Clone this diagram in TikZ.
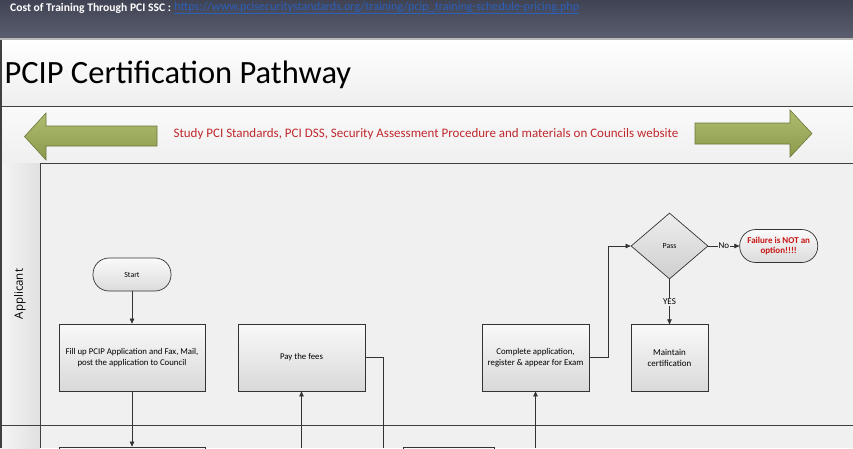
\documentclass[tikz,border=0pt]{standalone}
\usepackage{fontspec}
\setmainfont{Carlito}
\newfontfamily\laneFont{Open Sans}
\usetikzlibrary{positioning,shapes.geometric,arrows.meta}

\definecolor{bandTop}{HTML}{3F4354}
\definecolor{bandBottom}{HTML}{5A5E6F}
\definecolor{bgLight}{HTML}{F0F0F0}
\definecolor{arrowTop}{HTML}{AEBD70}
\definecolor{arrowBottom}{HTML}{8A994A}
\definecolor{arrowEdge}{HTML}{6C793A}
\definecolor{studyRed}{HTML}{C0282D}
\definecolor{failRed}{HTML}{C81414}
\definecolor{linkBlue}{HTML}{2C5FB8}

\begin{document}
\begin{tikzpicture}[x=1pt, y=1pt,
		conn/.style={draw=black!80, line width=0.6pt},
		arr/.style={conn, -{Triangle[length=5pt, width=4.5pt]}},
		stepbox/.style={draw=black!80, line width=0.7pt, top color=gray!5, bottom color=gray!30,
			align=center, minimum width=146pt, minimum height=67pt, inner sep=2pt,
			font=\fontsize{8.8}{10.8}\selectfont},
		terminal/.style={draw=black!80, line width=0.7pt, top color=gray!4, bottom color=gray!28,
			rounded corners=16pt, minimum width=78pt, minimum height=33pt, align=center,
			font=\fontsize{7.8}{9}\selectfont},
		decision/.style={diamond, draw=black!80, line width=0.7pt, top color=gray!14, bottom color=gray!38,
			minimum width=77pt, minimum height=66pt, inner sep=0pt, font=\fontsize{7.8}{9}\selectfont},
		lbl/.style={fill=bgLight, inner sep=1pt, font=\fontsize{9}{10}\selectfont},
		bigArrow/.style={draw=arrowEdge, line width=0.6pt, top color=arrowTop, bottom color=arrowBottom}
	]
	
	% --- Page frame (853 x 448) ---
	\path[use as bounding box, clip] (0,0) rectangle (853,-448);
	
	% Dark header band with the training link
	\shade[top color=bandTop, bottom color=bandBottom] (0,0) rectangle (853,-38);
	\fill[gray!55] (0,-38) rectangle (853,-40);
	\node[anchor=west, text=white, font=\bfseries\fontsize{11.6}{13}\selectfont, inner sep=1pt] (CostLbl) at (9,-8)
		{Cost of Training Through PCI SSC :};
	\node[right=1pt of CostLbl, text=linkBlue, font=\fontsize{12.1}{13}\selectfont, inner sep=1pt] (CostLink)
		{\underline{https://www.pcisecuritystandards.org/training/pcip\_training-schedule-pricing.php}};
	
	% Light body, title band and study band
	\fill[bgLight] (0,-40) rectangle (853,-448);
	\shade[top color=white, bottom color=gray!13] (0,-40) rectangle (853,-106);
	\shade[top color=gray!4, bottom color=gray!12] (0,-106) rectangle (853,-163);
	\draw[black!75, line width=0.8pt] (0,-106) -- (853,-106);
	\draw[black!75, line width=0.8pt] (0,-163) -- (853,-163);
	\node[anchor=west, font=\fontsize{32.5}{36}\selectfont] (Title) at (1,-75) {PCIP Certification Pathway};
	
	% Study band: two big arrows with the text in between
	\path[bigArrow] (24.5,-136.5) -- (46,-113) -- (46,-126) -- (157,-126) -- (157,-146)
		-- (46,-146) -- (46,-160) -- cycle;
	\path[bigArrow] (812,-133.5) -- (790,-110) -- (790,-123) -- (695,-123) -- (695,-144)
		-- (790,-144) -- (790,-157) -- cycle;
	\node[text=studyRed, font=\fontsize{13}{15}\selectfont] (Study) at (426,-134.5)
		{Study PCI Standards, PCI DSS, Security Assessment Procedure and materials on Councils website};
	
	% --- Swim lane "Applicant" ---
	\shade[left color=gray!8, right color=gray!24] (0,-163) rectangle (40,-448);
	\draw[black!75, line width=0.8pt] (40,-163) -- (40,-448);
	\draw[black!75, line width=0.8pt] (0,-425) -- (853,-425);
	\fill[black!75] (0,-40) rectangle (2,-448);
	\node[rotate=90, font=\laneFont\fontsize{11.5}{13}\selectfont] (Lane) at (20,-294) {Applicant};
	
	% Flow steps
	\node[terminal] (Start) at (132,-274.5) {Start};
	\node[stepbox] (FillApp) at (132,-357.5)
		{Fill up PCIP Application and Fax, Mail,\\ post the application to Council};
	\node[stepbox, minimum width=127pt] (PayFees) at (301.5,-357.5) {Pay the fees};
	\node[stepbox, minimum width=107pt] (Exam) at (535.5,-357.5)
		{Complete application,\\ register \& appear for Exam};
	\node[decision] (Pass) at (669.5,-246) {Pass};
	\node[stepbox, minimum width=77pt, below=45pt of Pass, font=\fontsize{9}{11}\selectfont] (Maintain)
		{Maintain\\ certification};
	\node[terminal, right=31pt of Pass, text=failRed, font=\bfseries\fontsize{9}{10.5}\selectfont] (Fail)
		{Failure is NOT an\\ option!!!!};
	
	% Steps of the next lane (only their tops show)
	\node[stepbox] (NextA) at (132,-480.5) {};
	\node[stepbox, minimum width=91pt] (NextB) at (448.5,-480.5) {};
	
	% Free ends of the lines that leave the picture
	\coordinate (PayIn) at (PayFees.south |- 0,-448);
	\coordinate (PayOut) at (383,-448);
	\coordinate (ExamIn) at (Exam.south |- 0,-448);
	\coordinate (ExamBend) at (608,-357.5);
	
	% Connectors
	\draw[arr] (Start) -- (FillApp);
	\draw[arr] (FillApp) -- (NextA);
	\draw[arr] (PayIn) -- (PayFees);
	\draw[conn] (PayFees.east) -| (PayOut);
	\draw[arr] (ExamIn) -- (Exam);
	\draw[arr] (Exam.east) -- (ExamBend) |- (Pass.west);
	\draw[arr] (Pass.east) -- node[lbl] {No} (Fail.west);
	\draw[arr] (Pass.south) -- node[lbl] {YES} (Maintain.north);
	
\end{tikzpicture}
\end{document}
